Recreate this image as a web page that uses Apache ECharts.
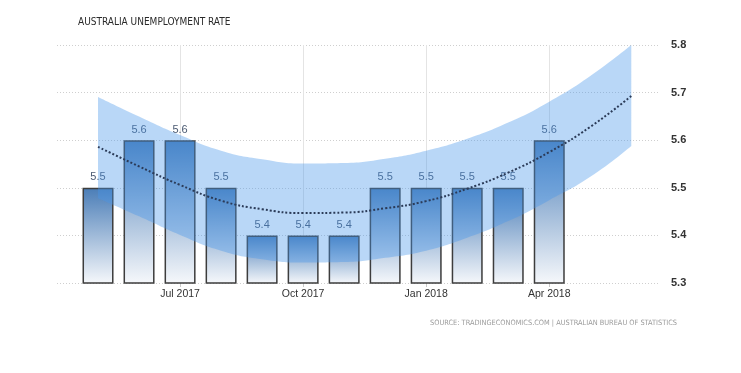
<!DOCTYPE html>
<html>
<head>
<meta charset="utf-8">
<script src="https://cdn.jsdelivr.net/npm/echarts@6/dist/echarts.min.js"></script>
<style>
html,body{margin:0;padding:0;background:#fff;}
#chart{width:741px;height:373px;}
</style>
</head>
<body>
<div id="chart"></div>
<script>
// Monthly observations
var barMonths = ['2017-05','2017-06','2017-07','2017-08','2017-09','2017-10','2017-11','2017-12','2018-01','2018-02','2018-03','2018-04'];
var rateValues = [5.5, 5.6, 5.6, 5.5, 5.4, 5.4, 5.4, 5.5, 5.5, 5.5, 5.5, 5.6];

// Trend / forecast band (extends two months past last observation)
var trendMonths = ['2017-05','2017-06','2017-07','2017-08','2017-09','2017-10','2017-11','2017-12','2018-01','2018-02','2018-03','2018-04','2018-05','2018-06'];
var trendValues = [5.586, 5.545, 5.506, 5.473, 5.455, 5.447, 5.448, 5.457, 5.472, 5.498, 5.532, 5.575, 5.628, 5.693];
var bandUpper  = [5.691, 5.650, 5.611, 5.578, 5.560, 5.551, 5.552, 5.561, 5.578, 5.603, 5.637, 5.681, 5.735, 5.800];
var bandLower  = [5.478, 5.440, 5.401, 5.368, 5.350, 5.343, 5.344, 5.353, 5.368, 5.395, 5.430, 5.474, 5.523, 5.588];

// x tick labels (quarters)
var xTickMonths = ['2017-07','2017-10','2018-01','2018-04'];
var xTickLabels = ['Jul 2017','Oct 2017','Jan 2018','Apr 2018'];
var yTicks = {min: 5.3, max: 5.8, interval: 0.1};

var titleText = 'AUSTRALIA UNEMPLOYMENT RATE';
var sourceText = 'SOURCE: TRADINGECONOMICS.COM | AUSTRALIAN BUREAU OF STATISTICS';

// month string -> month index counted from Jan 2017
function mIdx(s){ var p = s.split('-'); return (+p[0] - 2017) * 12 + (+p[1] - 1); }

var barData = barMonths.map(function(m, i){ return [mIdx(m), rateValues[i]]; });
var spanValues = trendMonths.map(function(m, i){ return +(bandUpper[i] - bandLower[i]).toFixed(3); });
var tickIdx = xTickMonths.map(mIdx);

// layout: main grid spans month index 3 .. 17.7
var G = {left: 57, right: 81, top: 45, bottom: 90, width: 741};
var xMin = 3, xMax = 17.7;
var pxPerMonth = (G.width - G.left - G.right) / (xMax - xMin);
var bandGrid = {
  left: G.left + (mIdx(trendMonths[0]) - xMin) * pxPerMonth,
  right: G.width - (G.left + (mIdx(trendMonths[trendMonths.length - 1]) - xMin) * pxPerMonth),
  top: G.top, bottom: G.bottom
};

var chart = echarts.init(document.getElementById('chart'));
var font = "'Liberation Sans', Arial, sans-serif";
var condensed = "'DejaVu Sans Condensed', 'Liberation Sans', sans-serif";
chart.setOption({
  animation: false,
  textStyle: {fontFamily: font},
  title: [
    {text: titleText, left: 73, top: 12, textStyle: {fontSize: 10, fontWeight: 'normal', color: '#2a2a2a', fontFamily: condensed}},
    {text: sourceText, right: 59, top: 315, textStyle: {fontSize: 7.35, fontWeight: 'normal', color: '#9a9a9a', fontFamily: condensed}}
  ],
  grid: [
    {left: G.left, right: G.right, top: G.top, bottom: G.bottom, containLabel: false},
    {left: bandGrid.left, right: bandGrid.right, top: bandGrid.top, bottom: bandGrid.bottom, containLabel: false}
  ],
  xAxis: [{
    type: 'value', gridIndex: 0,
    min: xMin, max: xMax, interval: 3,
    axisLine: {show: false},
    axisTick: {show: true, length: 4, lineStyle: {color: '#c8c8c8'}, customValues: tickIdx},
    axisLabel: {
      color: '#333', fontSize: 10.5, margin: 6, customValues: tickIdx,
      formatter: function (val) {
        var k = tickIdx.indexOf(Math.round(val));
        return k >= 0 ? xTickLabels[k] : '';
      }
    },
    splitLine: {show: true, lineStyle: {color: '#e4e4e4', width: 1}}
  }, {
    type: 'category', gridIndex: 1, data: trendMonths, boundaryGap: false, show: false
  }],
  yAxis: [{
    type: 'value', gridIndex: 0,
    position: 'right',
    min: yTicks.min, max: yTicks.max, interval: yTicks.interval,
    axisLine: {show: false},
    axisTick: {show: false},
    axisLabel: {color: '#333', fontSize: 11, fontWeight: 'bold', margin: 11, formatter: function(v){ return v.toFixed(1); }},
    splitLine: {show: true, lineStyle: {color: '#cfcfcf', type: [1, 2], width: 1}}
  }, {
    type: 'value', gridIndex: 1, min: yTicks.min, max: yTicks.max, interval: yTicks.interval, show: false,
    splitLine: {show: false}
  }],
  series: [
    {
      type: 'bar', xAxisIndex: 0, yAxisIndex: 0,
      data: barData,
      barWidth: 31,
      z: 2,
      itemStyle: {
        color: new echarts.graphic.LinearGradient(0, 0, 0, 1, [
          {offset: 0, color: '#4a7db7'},
          {offset: 1, color: '#f6f8fb'}
        ]),
        borderColor: '#3d3d3d',
        borderWidth: 1.5
      },
      label: {show: true, position: 'top', distance: 5, color: '#4b5a72', fontSize: 11,
        formatter: function(p){ return p.value[1].toFixed(1); }}
    },
    {
      type: 'line', xAxisIndex: 1, yAxisIndex: 1, data: bandLower, stack: 'band', smooth: true, symbol: 'none',
      lineStyle: {opacity: 0}, z: 3, silent: true
    },
    {
      type: 'line', xAxisIndex: 1, yAxisIndex: 1, data: spanValues, stack: 'band', smooth: true, symbol: 'none',
      lineStyle: {opacity: 0}, z: 3, silent: true,
      areaStyle: {color: 'rgba(70,150,235,0.38)', opacity: 1}
    },
    {
      type: 'line', xAxisIndex: 1, yAxisIndex: 1, data: trendValues, smooth: true, symbol: 'none', z: 4,
      lineStyle: {color: '#2b3b58', width: 2, type: [2, 2]}
    }
  ]
});
</script>
</body>
</html>
